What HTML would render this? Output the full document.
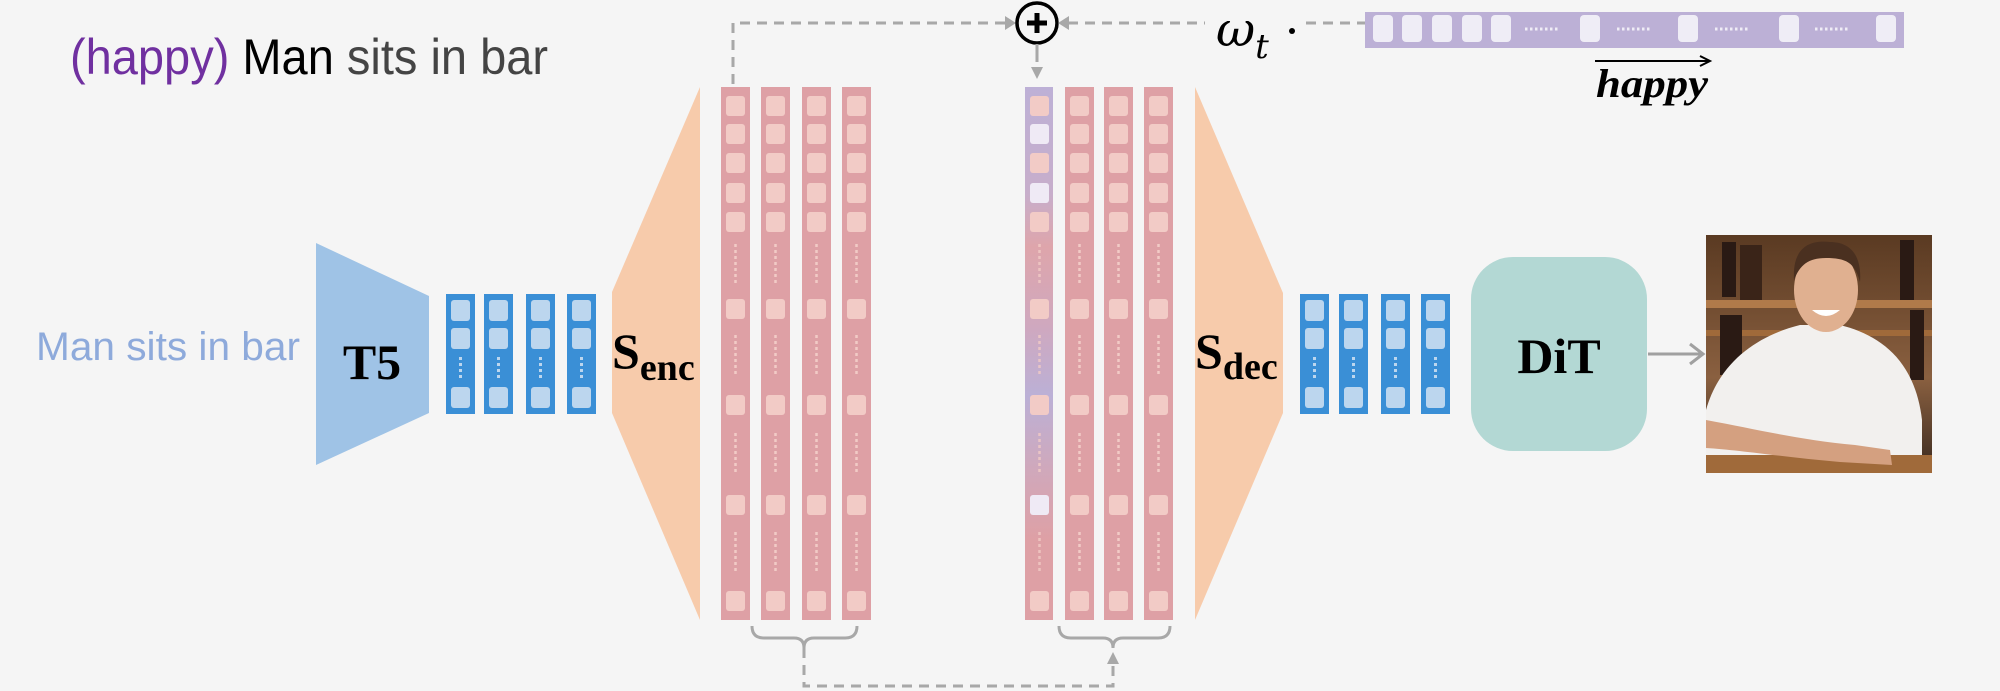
<!DOCTYPE html>
<html><head><meta charset="utf-8"><style>
html,body{margin:0;padding:0;background:#f5f5f5;}
svg{display:block;}
</style></head><body>
<svg width="2000" height="691" viewBox="0 0 2000 691" xmlns="http://www.w3.org/2000/svg">
<defs>
<g id="col">
  <rect x="0" y="0" width="29" height="533" fill="#dea0a5"/>
  <g fill="#f2cbc6">
    <rect x="5" y="9" width="19" height="20" rx="3"/>
    <rect x="5" y="37" width="19" height="20" rx="3"/>
    <rect x="5" y="66" width="19" height="20" rx="3"/>
    <rect x="5" y="96" width="19" height="20" rx="3"/>
    <rect x="5" y="125" width="19" height="20" rx="3"/>
    <rect x="5" y="212" width="19" height="20" rx="3"/>
    <rect x="5" y="308" width="19" height="20" rx="3"/>
    <rect x="5" y="408" width="19" height="20" rx="3"/>
    <rect x="5" y="504" width="19" height="20" rx="3"/>
  </g>
  <g stroke="#f2cbc6" stroke-width="2.5" stroke-dasharray="3 3">
    <line x1="14.5" y1="157" x2="14.5" y2="198"/>
    <line x1="14.5" y1="248" x2="14.5" y2="289"/>
    <line x1="14.5" y1="346" x2="14.5" y2="386"/>
    <line x1="14.5" y1="445" x2="14.5" y2="485"/>
  </g>
</g>
<g id="bcol">
  <rect x="0" y="0" width="29" height="120" fill="#3a8fd6"/>
  <g fill="#bcd6ee">
    <rect x="5" y="6" width="19" height="21" rx="3"/>
    <rect x="5" y="34" width="19" height="21" rx="3"/>
    <rect x="5" y="93" width="19" height="21" rx="3"/>
  </g>
  <line x1="14.5" y1="63" x2="14.5" y2="86" stroke="#bcd6ee" stroke-width="3" stroke-dasharray="3 3"/>
</g>
<linearGradient id="pg" x1="0" y1="0" x2="0" y2="1">
  <stop offset="0" stop-color="#bdb0d6"/>
  <stop offset="0.2" stop-color="#c7aecb"/>
  <stop offset="0.3" stop-color="#dea5ab"/>
  <stop offset="0.45" stop-color="#cfa8bf"/>
  <stop offset="0.58" stop-color="#bbb0d6"/>
  <stop offset="0.72" stop-color="#d0a8bb"/>
  <stop offset="0.85" stop-color="#dea0a5"/>
  <stop offset="1" stop-color="#dea0a5"/>
</linearGradient>
<linearGradient id="bg1" x1="0" y1="0" x2="0" y2="1">
  <stop offset="0" stop-color="#5a3a22"/>
  <stop offset="0.6" stop-color="#8a6040"/>
  <stop offset="1" stop-color="#3a2a20"/>
</linearGradient>
</defs>

<!-- title -->
<text x="70" y="74" font-family="Liberation Sans, sans-serif" font-size="50" textLength="478" lengthAdjust="spacingAndGlyphs"><tspan fill="#7030a0">(happy)</tspan> <tspan fill="#000">Man</tspan> <tspan fill="#444">sits in bar</tspan></text>

<!-- input text -->
<text x="36" y="360" font-family="Liberation Sans, sans-serif" font-size="40" fill="#8eaadb" textLength="264" lengthAdjust="spacingAndGlyphs">Man sits in bar</text>

<!-- T5 -->
<polygon points="316,243 429,296 429,413 316,465" fill="#9fc3e6"/>
<text x="372" y="379" text-anchor="middle" font-family="Liberation Serif, serif" font-weight="bold" font-size="50" fill="#000">T5</text>

<use href="#bcol" x="446" y="294"/>
<use href="#bcol" x="484" y="294"/>
<use href="#bcol" x="526" y="294"/>
<use href="#bcol" x="567" y="294"/>

<!-- Senc -->
<polygon points="612,292 700,87 700,620 612,413" fill="#f7cbab"/>
<text x="612" y="368" font-family="Liberation Serif, serif" font-weight="bold" font-size="50" fill="#000">S<tspan font-size="38" dy="12">enc</tspan></text>

<use href="#col" x="721" y="87"/>
<use href="#col" x="761" y="87"/>
<use href="#col" x="802" y="87"/>
<use href="#col" x="842" y="87"/>

<!-- dec first column -->
<rect x="1025" y="87" width="28" height="533" fill="url(#pg)"/>
<g>
  <rect x="1030" y="96" width="19" height="20" rx="3" fill="#f2cbc6"/>
  <rect x="1030" y="124" width="19" height="20" rx="3" fill="#efeaf5"/>
  <rect x="1030" y="153" width="19" height="20" rx="3" fill="#f2cbc6"/>
  <rect x="1030" y="183" width="19" height="20" rx="3" fill="#efeaf5"/>
  <rect x="1030" y="212" width="19" height="20" rx="3" fill="#f2cbc6"/>
  <rect x="1030" y="299" width="19" height="20" rx="3" fill="#f2cbc6"/>
  <rect x="1030" y="395" width="19" height="20" rx="3" fill="#f2cbc6"/>
  <rect x="1030" y="495" width="19" height="20" rx="3" fill="#efeaf5"/>
  <rect x="1030" y="591" width="19" height="20" rx="3" fill="#f2cbc6"/>
</g>
<g stroke="#f2cbc6" stroke-width="2.5" stroke-dasharray="3 3" opacity="0.8">
  <line x1="1039.5" y1="244" x2="1039.5" y2="285"/>
  <line x1="1039.5" y1="335" x2="1039.5" y2="376"/>
  <line x1="1039.5" y1="433" x2="1039.5" y2="473"/>
  <line x1="1039.5" y1="532" x2="1039.5" y2="572"/>
</g>
<use href="#col" x="1065" y="87"/>
<use href="#col" x="1104" y="87"/>
<use href="#col" x="1144" y="87"/>

<!-- Sdec -->
<polygon points="1195,87 1283,293 1283,413 1195,620" fill="#f7cbab"/>
<text x="1195" y="368" font-family="Liberation Serif, serif" font-weight="bold" font-size="50" fill="#000">S<tspan font-size="38" dy="11">dec</tspan></text>

<use href="#bcol" x="1300" y="294"/>
<use href="#bcol" x="1339" y="294"/>
<use href="#bcol" x="1381" y="294"/>
<use href="#bcol" x="1421" y="294"/>

<!-- DiT -->
<rect x="1471" y="257" width="176" height="194" rx="42" fill="#b3d8d4"/>
<text x="1559" y="373" text-anchor="middle" font-family="Liberation Serif, serif" font-weight="bold" font-size="50" fill="#000">DiT</text>

<!-- arrow to image -->
<line x1="1648" y1="354" x2="1702" y2="354" stroke="#a0a0a0" stroke-width="3"/>
<polyline points="1690,344 1703,354 1690,364" fill="none" stroke="#a0a0a0" stroke-width="3"/>

<!-- photo -->
<rect x="1706" y="235" width="226" height="238" fill="url(#bg1)"/>
<rect x="1706" y="300" width="226" height="8" fill="#b07a4a"/>
<rect x="1706" y="330" width="226" height="6" fill="#a06a3a"/>
<rect x="1722" y="242" width="14" height="55" fill="#2a1a14"/>
<rect x="1740" y="245" width="22" height="55" fill="#3a2418"/>
<rect x="1900" y="240" width="14" height="60" fill="#2a1a14"/>
<rect x="1910" y="310" width="14" height="70" fill="#2a1a14"/>
<rect x="1720" y="315" width="22" height="60" fill="#2a1a14"/>
<path d="M1706,410 C1720,360 1760,335 1800,325 L1840,325 C1880,335 1915,360 1922,420 L1922,473 L1706,473 Z" fill="#f2f0ee"/>
<rect x="1706" y="455" width="226" height="18" fill="#a06a3a"/>
<path d="M1706,420 C1760,430 1800,440 1855,445 L1890,450 L1892,465 L1840,462 C1790,458 1740,450 1706,448 Z" fill="#d4a080"/>
<ellipse cx="1826" cy="290" rx="32" ry="42" fill="#e0b090"/>
<path d="M1794,280 C1792,245 1812,240 1830,242 C1850,242 1862,255 1860,282 C1855,262 1845,258 1826,258 C1808,258 1800,265 1794,280 Z" fill="#4a3020"/>
<path d="M1812,310 Q1826,322 1840,310 Z" fill="#fff"/>

<!-- top dashed connections -->
<path d="M733,84 L733,23 L1005,23" fill="none" stroke="#a8a8a8" stroke-width="3" stroke-dasharray="10 7"/>
<polygon points="1005,16 1016,23 1005,30" fill="#a8a8a8"/>
<circle cx="1037" cy="23" r="20" fill="#f5f5f5" stroke="#000" stroke-width="3.5"/>
<line x1="1027" y1="23" x2="1047" y2="23" stroke="#000" stroke-width="5"/>
<line x1="1037" y1="13" x2="1037" y2="33" stroke="#000" stroke-width="5"/>
<line x1="1068" y1="23" x2="1205" y2="23" stroke="#a8a8a8" stroke-width="3" stroke-dasharray="10 7"/>
<polygon points="1069,16 1058,23 1069,30" fill="#a8a8a8"/>
<line x1="1037" y1="44" x2="1037" y2="62" stroke="#a8a8a8" stroke-width="3"/>
<polygon points="1031,67 1043,67 1037,79" fill="#a8a8a8"/>

<text x="1216" y="46" font-family="DejaVu Serif, Liberation Serif, serif" font-style="italic" font-size="48" fill="#000">ω<tspan font-size="34" dy="12">t</tspan></text>
<circle cx="1292" cy="31" r="3" fill="#000"/>
<line x1="1306" y1="23" x2="1365" y2="23" stroke="#a8a8a8" stroke-width="3" stroke-dasharray="10 7"/>

<!-- purple bar -->
<rect x="1365" y="12" width="539" height="36" fill="#bcb0d6"/>
<g fill="#efedf6">
  <rect x="1373" y="15" width="20" height="27" rx="4"/>
  <rect x="1402" y="15" width="20" height="27" rx="4"/>
  <rect x="1432" y="15" width="20" height="27" rx="4"/>
  <rect x="1462" y="15" width="20" height="27" rx="4"/>
  <rect x="1491" y="15" width="20" height="27" rx="4"/>
  <rect x="1580" y="15" width="20" height="27" rx="4"/>
  <rect x="1678" y="15" width="20" height="27" rx="4"/>
  <rect x="1779" y="15" width="20" height="27" rx="4"/>
  <rect x="1876" y="15" width="20" height="27" rx="4"/>
</g>
<g stroke="#efedf6" stroke-width="3" stroke-dasharray="2.5 2.5">
  <line x1="1525" y1="29" x2="1558" y2="29"/>
  <line x1="1617" y1="29" x2="1650" y2="29"/>
  <line x1="1715" y1="29" x2="1748" y2="29"/>
  <line x1="1815" y1="29" x2="1848" y2="29"/>
</g>
<line x1="1595" y1="61" x2="1708" y2="61" stroke="#000" stroke-width="2"/>
<polyline points="1700,56 1710,61 1700,66" fill="none" stroke="#000" stroke-width="2"/>
<text x="1596" y="97" font-family="Liberation Serif, serif" font-style="italic" font-weight="bold" font-size="40" fill="#000" textLength="112" lengthAdjust="spacingAndGlyphs">happy</text>

<!-- braces -->
<path d="M752,626 Q752,638 764,638 L794,638 Q804,638 804,648 Q804,638 814,638 L845,638 Q857,638 857,626" fill="none" stroke="#a8a8a8" stroke-width="3"/>
<path d="M1059,626 Q1059,638 1071,638 L1103,638 Q1113,638 1113,648 Q1113,638 1123,638 L1158,638 Q1170,638 1170,626" fill="none" stroke="#a8a8a8" stroke-width="3"/>
<path d="M804,648 L804,686 L1113,686 L1113,664" fill="none" stroke="#a8a8a8" stroke-width="3" stroke-dasharray="10 7"/>
<polygon points="1107,664 1119,664 1113,652" fill="#a8a8a8"/>
</svg>
</body></html>
